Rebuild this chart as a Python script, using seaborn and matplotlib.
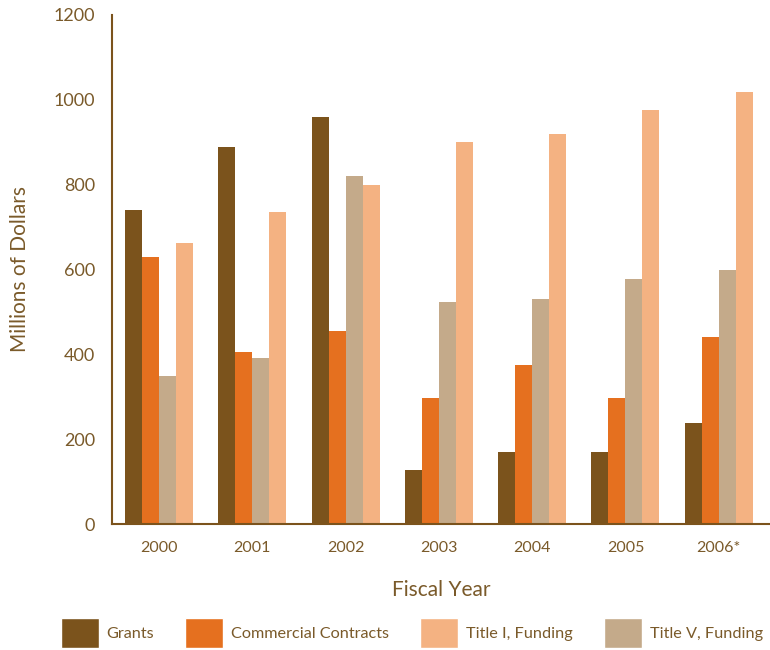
import pandas as pd
import seaborn as sns
import matplotlib.pyplot as plt
from matplotlib.patches import Patch

years = ["2000", "2001", "2002", "2003", "2004", "2005", "2006*"]
grants = [740, 889, 960, 127, 170, 170, 238]
commercial = [630, 406, 455, 297, 375, 297, 441]
title_v = [349, 391, 821, 524, 531, 578, 599]
title_i = [663, 736, 800, 901, 920, 976, 1019]

series = ["Grants", "Commercial Contracts", "Title V, Funding", "Title I, Funding"]
colors = {"Grants": "#7B531C", "Commercial Contracts": "#E5701F",
          "Title V, Funding": "#C4AA8A", "Title I, Funding": "#F4B282"}
txt = "#7A5A2A"

rows = []
for name, vals in zip(series, [grants, commercial, title_v, title_i]):
    for y, v in zip(years, vals):
        rows.append({"year": y, "series": name, "value": v})
df = pd.DataFrame(rows)

sns.set_style("white")
plt.rcParams["font.family"] = ["Lato", "DejaVu Sans"]

fig = plt.figure(figsize=(7.7, 6.5), dpi=100)
ax = fig.add_axes([0.1455, 0.1938, 0.8545, 0.7832])
sns.barplot(data=df, x="year", y="value", hue="series", hue_order=series,
            palette=colors, width=0.73, gap=0, saturation=1, linewidth=0,
            ax=ax, legend=False)

ax.set_xlim(-0.504, 6.55)
ax.set_ylim(0, 1200)
ax.set_yticks(range(0, 1201, 200))
for s in ["top", "right"]:
    ax.spines[s].set_visible(False)
for s in ["left", "bottom"]:
    ax.spines[s].set_color("#7B531C")
    ax.spines[s].set_linewidth(1.5)
ax.tick_params(axis="y", direction="in", length=16, width=1.5, color="#7B531C",
               labelcolor=txt, labelsize=13, pad=12)
ax.tick_params(axis="x", length=0, labelcolor=txt, labelsize=11.5, pad=12)
ax.set_xlabel("Fiscal Year", color=txt, fontsize=15, labelpad=18)
ax.set_ylabel("Millions of Dollars", color=txt, fontsize=15, labelpad=17)

order = ["Grants", "Commercial Contracts", "Title I, Funding", "Title V, Funding"]
handles = [Patch(facecolor=colors[n], label=n) for n in order]
fig.legend(handles=handles, loc="lower center", bbox_to_anchor=(0.535, -0.014),
           ncol=4, frameon=False, fontsize=11.7, labelcolor=txt, borderpad=0.2,
           handlelength=2.34, handleheight=2.4, columnspacing=1.9, handletextpad=0.5)

fig.savefig("out.png", dpi=100)
